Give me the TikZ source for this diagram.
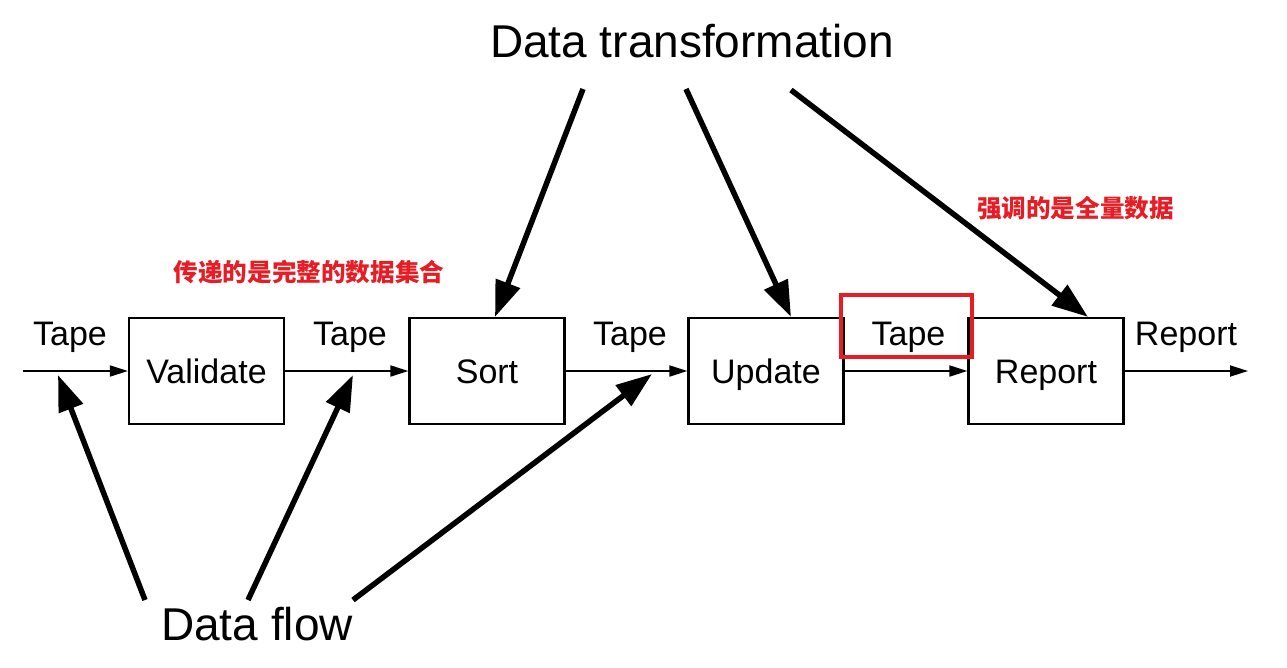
\documentclass[tikz,border=0pt]{standalone}
\usepackage{fontspec}
\setmainfont{Liberation Sans}
\newfontfamily\cjk{Noto Sans CJK SC}
\usetikzlibrary{arrows.meta}
\definecolor{notered}{RGB}{232,28,36}
\tikzset{
  procbox/.style={draw, line width=2.2pt, minimum width=155pt, minimum height=106pt,
    text height=25pt, text depth=0pt, inner sep=0pt, font=\fontsize{34}{40}\selectfont},
  lbl/.style={anchor=base, inner sep=0pt, font=\fontsize{34}{40}\selectfont},
  biglbl/.style={anchor=base, inner sep=0pt, font=\fontsize{46}{52}\selectfont},
  note/.style={inner sep=0pt, text=notered, font=\cjk\bfseries\fontsize{24.6}{28}\selectfont},
  flowline/.style={line width=1.8pt, -{Triangle[length=18pt,width=11pt]}},
  bigarrow/.style={line width=5.5pt, -{Triangle[length=36pt,width=25pt]}},
}
\begin{document}
\begin{tikzpicture}[x=1pt,y=-1pt]
\useasboundingbox[fill=white] (0,0) rectangle (1287,667);

% process boxes
\node[procbox] (val) at (206.5,371) {Validate};
\node[procbox] (sort) at (487,371) {Sort};
\node[procbox] (upd) at (766,371) {Update};
\node[procbox] (rep) at (1046,371) {Report};

% free ends
\coordinate (in) at (23,371);
\coordinate (out) at (1248,371);

% horizontal data lines
\draw[flowline] (in) -- (val);
\draw[flowline] (val) -- (sort);
\draw[flowline] (sort) -- (upd);
\draw[flowline] (upd) -- (rep);
\draw[flowline] (rep) -- (out);

% line labels
\node[lbl] (t1) at (70,345) {Tape};
\node[lbl] (t2) at (350,345) {Tape};
\node[lbl] (t3) at (630,345) {Tape};
\node[lbl] (t4) at (908.5,345) {Tape};
\node[lbl] (r5) at (1186,345) {Report};

% highlight box
\draw[notered, line width=3.2pt] (841,295) rectangle (972,357);

% headings
\node[biglbl] (dt) at (692,57) {Data transformation};
\node[biglbl] (df) at (257,640) {Data flow};

% data transformation arrows
\coordinate (dt1) at (583,89);
\coordinate (dt2) at (686,89);
\coordinate (dt3) at (791,90);
\draw[bigarrow] (dt1) -- ([xshift=8pt]sort.north);
\draw[bigarrow] (dt2) -- ([xshift=25pt]upd.north);
\draw[bigarrow] (dt3) -- ([xshift=42pt]rep.north);

% data flow arrows
\coordinate (df1) at (145,600);
\coordinate (df2) at (248,600);
\coordinate (df3) at (353,600);
\coordinate (e1) at (58,375);
\coordinate (e2) at (353,375);
\coordinate (e3) at (652,374);
\draw[bigarrow] (df1) -- (e1);
\draw[bigarrow] (df2) -- (e2);
\draw[bigarrow] (df3) -- (e3);

% red notes
\node[note] (n1) at (309,272.5) {传递的是完整的数据集合};
\node[note] (n2) at (1075.5,208) {强调的是全量数据};
\end{tikzpicture}
\end{document}
